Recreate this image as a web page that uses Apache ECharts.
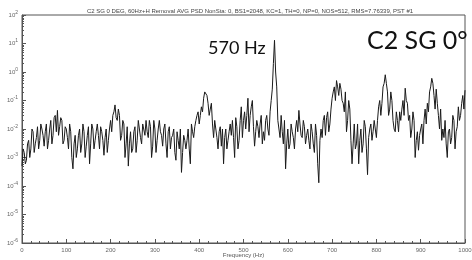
<!DOCTYPE html>
<html>
<head>
<meta charset="utf-8">
<script src="https://cdn.jsdelivr.net/npm/echarts@6/dist/echarts.min.js"></script>
<style>
  html, body { margin: 0; padding: 0; background: #fff; }
  #chart { width: 472px; height: 260px; }
</style>
</head>
<body>
<div id="chart"></div>
<script>
  // frequency axis (Hz), points every 5 Hz plus the in-between readings
  const freqStep = 5
  const xTicks = [0, 100, 200, 300, 400, 500, 600, 700, 800, 900, 1000]
  const yTicks = [1e-6, 1e-5, 1e-4, 1e-3, 1e-2, 1e-1, 1, 10, 100]

  // PSD at 0, 5, 10 ... 1000 Hz
  const psd = [
    5e-4, 1.5e-3, 8e-4, 4e-3, 2e-3, 8e-3, 3e-3, 1.2e-2, 4e-3, 1e-2,
    2.5e-3, 1.5e-2, 4e-3, 2e-2, 6e-3, 3e-2, 4.5e-2, 1.2e-2, 2e-2, 4e-3,
    1e-2, 2e-3, 8e-3, 4e-4, 6e-3, 2e-3, 1e-2, 3e-3, 8e-3, 2.5e-3,
    1.2e-2, 3e-3, 1e-2, 4e-3, 1.5e-2, 2e-3, 8e-3, 1.2e-3, 1e-2, 4e-3,
    2e-2, 3e-2, 7e-2, 2e-2, 3e-2, 6e-3, 1.5e-2, 3e-3, 5e-4, 8e-3,
    2e-3, 1.2e-2, 4e-3, 1e-2, 3e-3, 1.5e-2, 2e-2, 5e-3, 1.2e-2, 2.5e-3,
    1e-2, 4e-3, 2e-2, 6e-3, 1e-2, 3e-3, 8e-3, 2e-3, 6e-3, 1.5e-3,
    8e-3, 2e-3, 3e-4, 6e-3, 2e-3, 1e-2, 6e-4, 8e-3, 1.2e-2, 3e-2,
    1.5e-2, 6e-2, 1.2e-1, 2.3e-1, 8e-2, 5e-2, 1.5e-2, 2e-2, 5e-3, 8e-3,
    2.5e-3, 6e-4, 1e-2, 4e-3, 1.5e-2, 2e-2, 1e-3, 1.2e-2, 4e-3, 6e-2,
    2e-2, 1e-2, 1.2e-1, 3e-2, 1e-1, 2.5e-3, 2e-2, 5e-3, 3e-2, 8e-3,
    2e-2, 1e-2, 4e-2, 2.5e-1, 13, 3e-1, 1e-2, 3e-2, 3e-3, 4e-4,
    1e-2, 3e-3, 8e-3, 2e-3, 2e-2, 4.5e-2, 6e-3, 2e-2, 3e-3, 1e-2,
    2e-3, 8e-3, 1.5e-3, 6e-3, 1.3e-4, 1e-2, 2e-2, 6e-3, 4e-2, 1.5e-2,
    1.2e-1, 3e-1, 5e-1, 1.5e-1, 2.5e-1, 8e-2, 2e-1, 2e-2, 5e-2, 6e-4,
    1.5e-2, 3e-3, 6e-4, 1e-2, 3e-3, 1.2e-2, 2.5e-4, 1e-2, 4e-3, 2e-2,
    5e-3, 6e-2, 3e-2, 3e-1, 8e-1, 2e-1, 5e-2, 1e-1, 1e-2, 4e-2,
    8e-3, 2e-2, 1e-1, 2.7e-1, 8e-2, 3e-2, 1e-2, 2e-2, 4e-3, 1.8e-3,
    1e-2, 3e-3, 5e-2, 8e-2, 2e-1, 6e-1, 1.5e-1, 2.5e-1, 3e-2, 5e-2,
    1e-2, 2e-2, 1e-3, 1e-2, 5e-3, 2e-2, 8e-3, 6e-2, 3e-2, 1.5e-1,
    2.3e-1
  ]

  // PSD read at 2.5, 7.5 ... 997.5 Hz
  const psdMid = [
    2e-3, 6e-4, 3e-3, 1e-3, 1e-2, 1.5e-3, 5e-3, 2e-3, 1.5e-2, 6e-3,
    8e-3, 2e-3, 1e-2, 3e-3, 2.5e-2, 8e-3, 6e-3, 2.5e-2, 3e-3, 1.2e-2,
    5e-3, 1.5e-2, 1e-3, 3e-3, 1e-3, 6e-3, 1.5e-3, 1.5e-2, 1e-3, 6e-3,
    6e-4, 1.5e-2, 2e-3, 8e-3, 6e-3, 1.2e-2, 4e-3, 5e-3, 1.5e-3, 1e-2,
    8e-3, 4e-2, 2.5e-2, 5e-2, 4e-3, 2e-2, 1e-3, 1.2e-2, 3e-3, 1.5e-3,
    8e-3, 1.5e-3, 2e-2, 5e-3, 1.5e-2, 6e-3, 8e-3, 2e-2, 1e-3, 2e-2,
    1.5e-3, 1e-2, 8e-3, 2.5e-3, 1.5e-2, 1e-3, 1.2e-2, 5e-3, 1e-2, 8e-4,
    4e-3, 1e-2, 1.5e-3, 4e-3, 4e-3, 2e-3, 1.5e-2, 5e-3, 2e-2, 4e-2,
    3e-2, 4e-2, 2e-1, 1.5e-1, 3e-2, 8e-2, 5e-3, 1e-2, 2e-3, 1.2e-2,
    1e-2, 5e-3, 2e-3, 8e-3, 6e-3, 5e-3, 2.5e-2, 2e-3, 2e-2, 5e-3,
    4e-2, 3e-2, 8e-3, 6e-2, 1.2e-2, 8e-3, 1.2e-2, 1.5e-2, 3e-3, 4e-3,
    3e-2, 6e-3, 1e-1, 2, 1, 2e-2, 5e-3, 8e-3, 2e-2, 3e-3,
    2e-3, 1.5e-2, 5e-3, 1e-2, 8e-3, 1.5e-2, 5e-3, 1.2e-2, 6e-3, 4e-3,
    1.5e-2, 3e-3, 1.5e-2, 6e-4, 4e-3, 5e-3, 3e-2, 2.5e-2, 8e-3, 5e-2,
    2e-1, 1e-1, 3e-1, 4e-1, 1e-1, 4e-2, 8e-3, 1e-1, 4e-3, 3e-3,
    2e-3, 1.5e-2, 4e-3, 1.5e-3, 2e-2, 2e-3, 5e-3, 1.5e-2, 8e-3, 1e-2,
    2e-2, 1e-1, 8e-2, 4e-1, 4e-1, 3e-2, 2e-1, 2e-2, 8e-3, 2e-2,
    4e-2, 5e-2, 3e-2, 1e-1, 2e-2, 5e-3, 4e-2, 1e-3, 8e-3, 6e-3,
    1.5e-2, 2e-2, 1.5e-2, 4e-2, 3e-1, 4e-1, 5e-2, 8e-2, 1e-2, 4e-3,
    5e-3, 3e-3, 8e-3, 3e-3, 3e-2, 2e-3, 1.2e-2, 2e-2, 8e-2, 5e-2
  ]

  const titleText = 'C2 SG 0 DEG, 60Hz+H Removal AVG PSD NonSta: 0, BS1=2048, KC=1, TH=0, NP=0, NOS=512, RMS=7.76339, PST #1'
  const xName = 'Frequency (Hz)'

  const chart = echarts.init(document.getElementById('chart'))

  // interleave the two readings along frequency
  const lineData = []
  psd.forEach((v, i) => {
    lineData.push([i * freqStep, v])
    if (i < psdMid.length) lineData.push([i * freqStep + freqStep / 2, psdMid[i]])
  })

  chart.setOption({
    animation: false,
    title: [{
      text: titleText,
      left: 245,
      top: 3,
      textAlign: 'center',
      textStyle: { fontFamily: 'Liberation Sans', fontSize: 6, fontWeight: 'normal', color: '#444' }
    }, {
      text: '570 Hz',
      left: 203,
      top: 34,
      textStyle: { fontFamily: 'Lato', fontSize: 18, fontWeight: 'normal', color: '#111' }
    }, {
      text: 'C2 SG 0°',
      left: 362,
      top: 23,
      textStyle: { fontFamily: 'Lato', fontSize: 25, fontWeight: 'normal', color: '#111' }
    }],
    grid: {
      left: 22,
      right: 7,
      top: 15,
      bottom: 17,
      outerBoundsMode: 'none',
      show: true,
      borderColor: '#555',
      borderWidth: 1
    },
    xAxis: {
      type: 'value',
      min: xTicks[0],
      max: xTicks[xTicks.length - 1],
      interval: 100,
      name: xName,
      nameLocation: 'middle',
      nameGap: 9,
      nameMoveOverlap: false,
      nameTextStyle: { fontFamily: 'Liberation Sans', fontSize: 6, color: '#555' },
      axisLine: { lineStyle: { color: '#555' } },
      axisTick: { inside: true, length: 4, lineStyle: { color: '#555' } },
      minorTick: { show: true, splitNumber: 5, length: 2, lineStyle: { color: '#555' } },
      splitLine: { show: false },
      axisLabel: {
        fontFamily: 'Liberation Sans', fontSize: 6, color: '#666', margin: 4,
        formatter: v => String(v)
      }
    },
    yAxis: {
      type: 'log',
      logBase: 10,
      min: yTicks[0],
      max: yTicks[yTicks.length - 1],
      axisLine: { lineStyle: { color: '#555' } },
      axisTick: { inside: true, length: 4, lineStyle: { color: '#555' } },
      minorTick: { show: true, splitNumber: 9, length: 2, lineStyle: { color: '#555' } },
      splitLine: { show: false },
      axisLabel: {
        margin: 4,
        formatter: v => '{b|10}{s|' + Math.round(Math.log10(v)) + '}',
        rich: {
          b: { fontFamily: 'Liberation Sans', fontSize: 6, color: '#666' },
          s: { fontFamily: 'Liberation Sans', fontSize: 5, color: '#666', verticalAlign: 'top', padding: [0, 0, 5, 0] }
        }
      }
    },
    series: [{
      type: 'line',
      data: lineData,
      symbol: 'none',
      lineStyle: { color: '#1a1a1a', width: 1 }
    }]
  })
</script>
</body>
</html>
